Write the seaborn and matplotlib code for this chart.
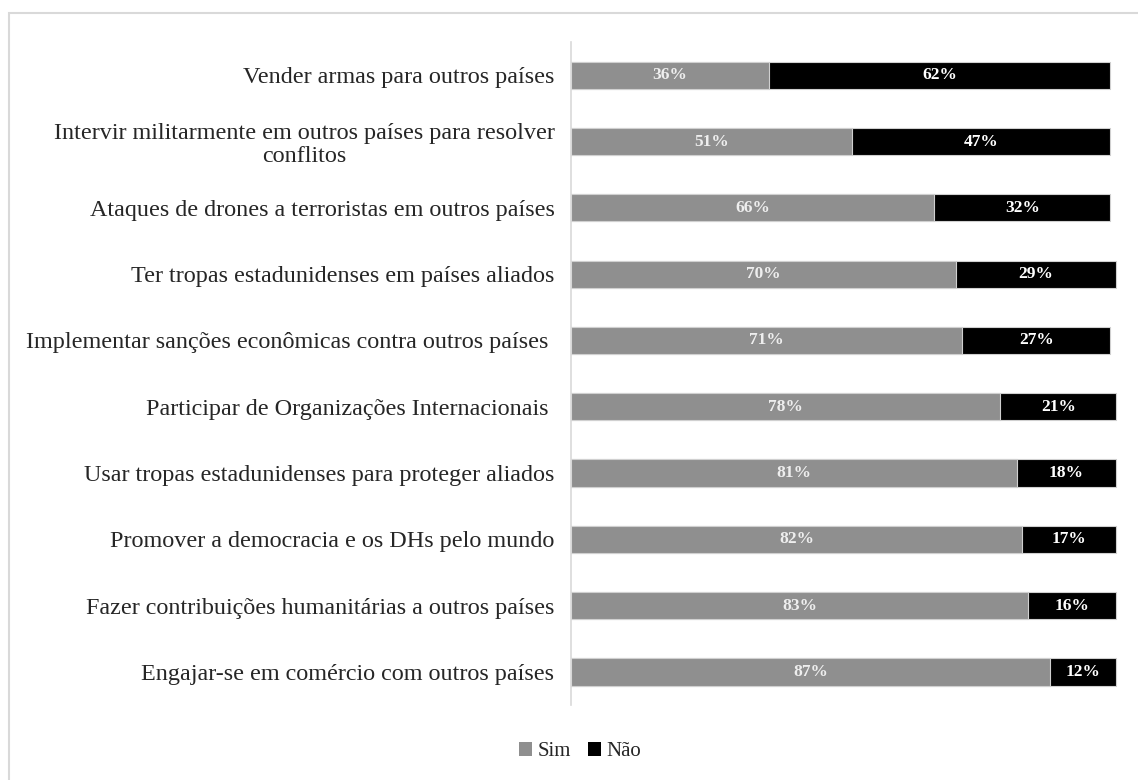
import matplotlib
matplotlib.use("Agg")
import matplotlib.pyplot as plt
import seaborn as sns
import pandas as pd
from matplotlib.patches import Patch, Rectangle

categories = [
    "Vender armas para outros países",
    "Intervir militarmente em outros países para resolver\nconflitos",
    "Ataques de drones a terroristas em outros países",
    "Ter tropas estadunidenses em países aliados",
    "Implementar sanções econômicas contra outros países ",
    "Participar de Organizações Internacionais ",
    "Usar tropas estadunidenses para proteger aliados",
    "Promover a democracia e os DHs pelo mundo",
    "Fazer contribuições humanitárias a outros países",
    "Engajar-se em comércio com outros países",
]
sim = [36, 51, 66, 70, 71, 78, 81, 82, 83, 87]
nao = [62, 47, 32, 29, 27, 21, 18, 17, 16, 12]
series_names = ["Sim", "Não"]

GRAY = "#8f8f8f"
BLACK = "#000000"
EDGE = "#d0d0d0"

sns.set_style("white")
plt.rcParams["font.family"] = ["Liberation Serif", "DejaVu Serif"]

df = pd.DataFrame({"cat": categories, "sim": sim, "nao": nao})
df["total"] = df["sim"] + df["nao"]

fig = plt.figure(figsize=(11.38, 7.8), dpi=100)
ax = fig.add_axes([0.5018, 0.096, 0.9855 - 0.5018, 0.946 - 0.096])

# stacked bars: full total in black, "Sim" share overlaid in gray
sns.barplot(data=df, y="cat", x="total", orient="h", color=BLACK,
            width=0.41, edgecolor=EDGE, linewidth=0.8, saturation=1, ax=ax)
sns.barplot(data=df, y="cat", x="sim", orient="h", color=GRAY,
            width=0.41, edgecolor=EDGE, linewidth=0.8, saturation=1, ax=ax)

for i, (s, n) in enumerate(zip(sim, nao)):
    ax.text(s / 2, i, f"{s}%", ha="center", va="center", color="#eeeeee",
            fontsize=12.5, fontweight="bold")
    ax.text(s + n / 2, i, f"{n}%", ha="center", va="center", color="white",
            fontsize=12.5, fontweight="bold")

ax.set_xlim(0, 100)
ax.set_ylim(9.5, -0.5)
ax.set_xlabel("")
ax.set_ylabel("")
ax.set_xticks([])
for side in ["top", "right", "bottom"]:
    ax.spines[side].set_visible(False)
ax.spines["left"].set_color("#d9d9d9")
ax.spines["left"].set_linewidth(1.2)
ax.tick_params(axis="y", length=0, pad=12, labelsize=17.4)
for lbl in ax.get_yticklabels():
    lbl.set_multialignment("center")
    lbl.set_linespacing(1.1)

handles = [Patch(facecolor=GRAY, edgecolor="none"),
           Patch(facecolor=BLACK, edgecolor="none")]
fig.legend(handles, series_names, loc="center", bbox_to_anchor=(0.51, 0.036),
           ncol=2, frameon=False, fontsize=15, handlelength=0.6,
           handleheight=0.6, handletextpad=0.3, columnspacing=0.8)

# light frame around the chart area
fig.patches.append(Rectangle((9 / 1138, -0.05), 1.2, 1 - 13 / 780 + 0.05,
                             transform=fig.transFigure, fill=False,
                             edgecolor="#d9d9d9", linewidth=1.5))

fig.savefig("out.png", dpi=100)
